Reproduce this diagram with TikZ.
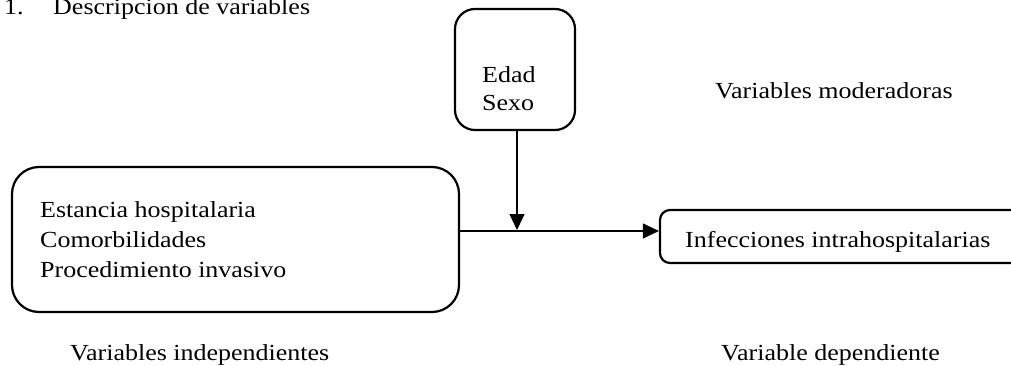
\documentclass[tikz,border=0pt]{standalone}
\usepackage{fontspec}
\setmainfont{Liberation Serif}[FakeStretch=1.13]
\usetikzlibrary{arrows.meta}
\begin{document}
\begin{tikzpicture}[x=1pt,y=-1pt,
  txt/.style={inner sep=0pt, anchor=base west, font=\fontsize{23}{28}\selectfont},
  boxshape/.style={draw, line width=2.2pt, rectangle, inner sep=0pt},
  conn/.style={line width=1.2pt, -{Triangle[length=16pt,width=15pt]}}]
\useasboundingbox (0,0) rectangle (1011,366);
\clip (0,0) rectangle (1011,366);
% title
\node[txt] (num) at (4,15) {1.};
\node[txt] (title) at (53,15) {Descripcion de variables};
% boxes
\node[boxshape, rounded corners=20pt, minimum width=120pt, minimum height=121pt] (mod) at (515,69.5) {};
\node[boxshape, rounded corners=27pt, minimum width=447pt, minimum height=145pt] (ind) at (235.5,239.5) {};
\node[boxshape, rounded corners=10pt, minimum width=400pt, minimum height=53pt] (dep) at (860,236.5) {};
% box texts
\node[txt] (edad) at (482,83) {Edad};
\node[txt] (sexo) at (482,111) {Sexo};
\node[txt] (est) at (40,217) {Estancia hospitalaria};
\node[txt] (com) at (40,247) {Comorbilidades};
\node[txt] (pro) at (40,277) {Procedimiento invasivo};
\node[txt] (inf) at (685,247) {Infecciones intrahospitalarias};
% labels
\node[txt] (lmod) at (715,99) {Variables moderadoras};
\node[txt] (lind) at (70,360) {Variables independientes};
\node[txt] (ldep) at (721,360) {Variable dependiente};
% connectors
\coordinate (hs) at (459,231);
\coordinate (join) at (517,230);
\draw[conn] (hs) -- (hs -| dep.west);
\draw[conn] (mod.south -| join) -- (join);
\end{tikzpicture}
\end{document}
